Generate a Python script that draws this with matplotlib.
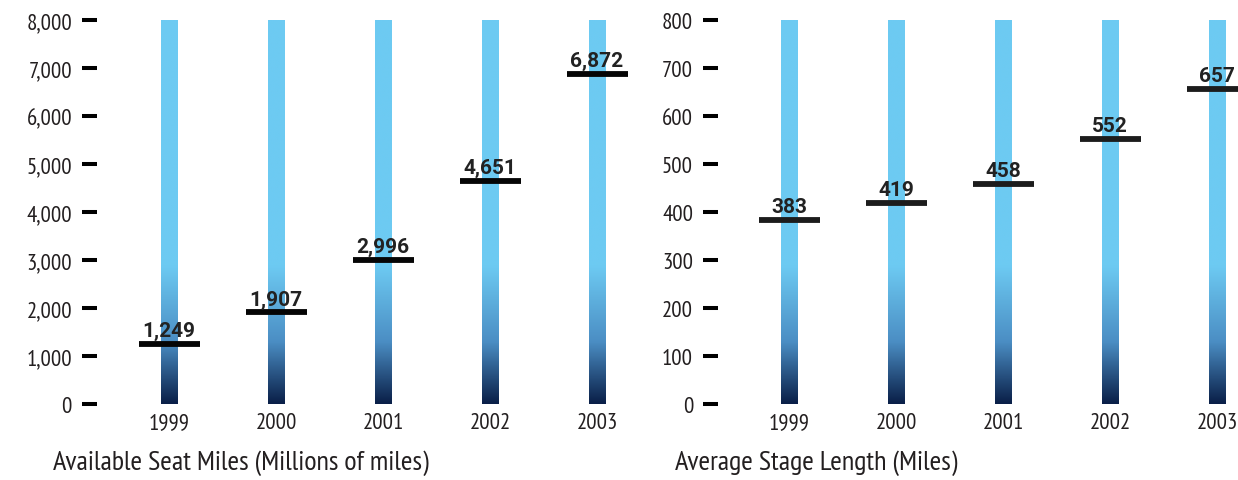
import numpy as np
import matplotlib
matplotlib.use("Agg")
import matplotlib.pyplot as plt
from matplotlib.colors import LinearSegmentedColormap
from matplotlib.ticker import FuncFormatter

years = ["1999", "2000", "2001", "2002", "2003"]
seat_miles = [1249, 1907, 2996, 4651, 6872]
stage_length = [383, 419, 458, 552, 657]

seat_ticks = [0, 1000, 2000, 3000, 4000, 5000, 6000, 7000, 8000]
stage_ticks = [0, 100, 200, 300, 400, 500, 600, 700, 800]

seat_title = "Available Seat Miles (Millions of miles)"
stage_title = "Average Stage Length (Miles)"

TEXT = "#231f20"
NARROW = ["PT Sans Narrow", "DejaVu Sans"]
BOLD = ["Roboto", "DejaVu Sans"]

W, H = 1238, 481
fig = plt.figure(figsize=(W / 100, H / 100), dpi=100)

bar_cmap = LinearSegmentedColormap.from_list(
    "bar", [(0.0, "#0a1f48"), (0.45, "#4b8ec4"), (1.0, "#6dcaf2")])


def panel(left_px, right_px, x0_px, values, ticks, title, title_x_px, marker_color):
    spacing = 107.0
    ax = fig.add_axes([left_px / W, 76 / H, (right_px - left_px) / W, 384 / H])
    ax.set_xlim(-(x0_px - left_px) / spacing, (right_px - x0_px) / spacing)
    ymax = ticks[-1]
    ax.set_ylim(0, ymax)
    for s in ax.spines.values():
        s.set_visible(False)
    ax.patch.set_visible(False)

    # vertical gradient: dark at the base, light from ~36% of the height up
    n = 400
    frac = np.linspace(0, 1, n)
    grad = np.clip(frac / 0.36, 0, 1)[:, None]
    bw = 17 / spacing
    for i in range(len(years)):
        ax.imshow(grad, cmap=bar_cmap, vmin=0, vmax=1, origin="lower",
                  extent=[i - bw / 2, i + bw / 2, 0, ymax], aspect="auto",
                  interpolation="bilinear", zorder=1)

    mw = 61 / spacing
    for i, v in enumerate(values):
        ax.hlines(v, i - mw / 2, i + mw / 2, colors=marker_color, lw=4.2,
                  zorder=3, capstyle="butt")
        ax.annotate(f"{v:,}", (i, v), xytext=(0, 8), textcoords="offset pixels",
                    ha="center", va="baseline", fontsize=15, fontweight="bold",
                    family=BOLD, color="#222222", zorder=4, annotation_clip=False)

    ax.set_xticks(range(len(years)))
    ax.set_xticklabels(years)
    ax.set_yticks(ticks)
    ax.yaxis.set_major_formatter(FuncFormatter(lambda v, p: f"{int(v):,}"))
    ax.tick_params(axis="y", direction="out", length=10.8, width=2.9,
                   color="black", pad=7.2, labelsize=16.5, labelcolor=TEXT)
    ax.tick_params(axis="x", length=0, pad=6, labelsize=16.5, labelcolor=TEXT)
    for lab in ax.get_xticklabels() + ax.get_yticklabels():
        lab.set_family(NARROW)
    fig.text(title_x_px / W, 1 - 463 / H, title, ha="left", va="center",
             fontsize=20.3, family=NARROW, color=TEXT)
    return ax


panel(97, 640, 169, seat_miles, seat_ticks, seat_title, 53, "#050505")
panel(718, 1238, 789, stage_length, stage_ticks, stage_title, 675, "#1c1c1c")

fig.savefig("out.png", dpi=100)
